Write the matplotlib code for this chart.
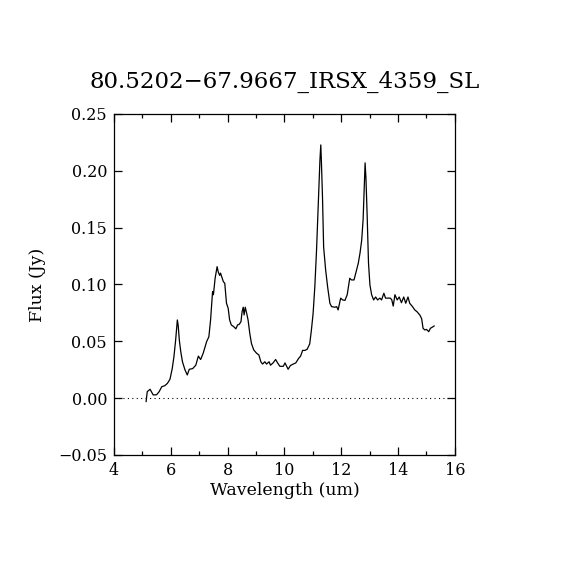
import numpy as np
import matplotlib
matplotlib.use('Agg')
import matplotlib.pyplot as plt
from matplotlib.ticker import MultipleLocator, FuncFormatter

# ── IRS SL spectrum ───────────────────────────────────────────────────
WAVE = [5.13, 5.17, 5.27, 5.38, 5.50, 5.59, 5.68, 5.79, 5.88, 5.97,
        6.05, 6.11, 6.17, 6.23, 6.26, 6.30, 6.35, 6.41, 6.50, 6.58,
        6.65, 6.77, 6.88, 6.97, 7.05, 7.14, 7.26, 7.34, 7.40, 7.47,
        7.50, 7.56, 7.63, 7.67, 7.72, 7.75, 7.85, 7.90, 7.96, 8.02,
        8.07, 8.13, 8.21, 8.29, 8.35, 8.41, 8.47, 8.51, 8.55, 8.58,
        8.62, 8.67, 8.72, 8.78, 8.84, 8.92, 9.02, 9.10, 9.17, 9.23,
        9.31, 9.37, 9.46, 9.51, 9.60, 9.69, 9.76, 9.84, 9.96, 10.02,
        10.13, 10.21, 10.31, 10.40, 10.50, 10.57, 10.64, 10.72, 10.80, 10.89,
        10.95, 11.01, 11.07, 11.13, 11.19, 11.25, 11.28, 11.30, 11.34, 11.38,
        11.45, 11.52, 11.60, 11.66, 11.78, 11.84, 11.89, 11.98, 12.05, 12.13,
        12.21, 12.30, 12.36, 12.45, 12.51, 12.60, 12.66, 12.72, 12.77, 12.82,
        12.84, 12.87, 12.91, 12.96, 13.01, 13.07, 13.14, 13.21, 13.28, 13.36,
        13.42, 13.50, 13.56, 13.65, 13.73, 13.78, 13.83, 13.89, 13.97, 14.04,
        14.12, 14.20, 14.27, 14.35, 14.41, 14.51, 14.59, 14.67, 14.77, 14.83,
        14.88, 14.94, 15.00, 15.08, 15.14, 15.21, 15.27]
FLUX = [-0.003, 0.0057, 0.0078, 0.0028, 0.003, 0.0057, 0.010, 0.011, 0.013, 0.0166,
        0.026, 0.0365, 0.051, 0.0688, 0.064, 0.051, 0.041, 0.032, 0.0248, 0.0204,
        0.0254, 0.026, 0.029, 0.037, 0.034, 0.0395, 0.0497, 0.054, 0.0688, 0.0937,
        0.091, 0.1055, 0.1157, 0.111, 0.108, 0.110, 0.1025, 0.101, 0.0835, 0.079,
        0.0688, 0.0644, 0.063, 0.061, 0.0644, 0.065, 0.0673, 0.0761, 0.080, 0.0732,
        0.080, 0.0747, 0.0688, 0.057, 0.048, 0.0424, 0.0395, 0.038, 0.032, 0.030,
        0.032, 0.030, 0.032, 0.029, 0.031, 0.034, 0.031, 0.028, 0.028, 0.031,
        0.0254, 0.0287, 0.030, 0.031, 0.035, 0.037, 0.042, 0.042, 0.043, 0.0477,
        0.060, 0.0747, 0.098, 0.130, 0.1685, 0.2095, 0.2228, 0.2095, 0.177, 0.133,
        0.113, 0.098, 0.0835, 0.0805, 0.080, 0.0805, 0.0776, 0.088, 0.0864, 0.086,
        0.091, 0.1055, 0.104, 0.104, 0.110, 0.1187, 0.1275, 0.139, 0.157, 0.1935,
        0.207, 0.1935, 0.1627, 0.1187, 0.0996, 0.091, 0.0864, 0.089, 0.0864, 0.088,
        0.0864, 0.0923, 0.088, 0.088, 0.088, 0.0864, 0.081, 0.091, 0.0864, 0.089,
        0.084, 0.089, 0.0835, 0.089, 0.0835, 0.0805, 0.0776, 0.076, 0.073, 0.070,
        0.0615, 0.060, 0.0605, 0.0585, 0.0615, 0.0625, 0.0635]

TITLE = '80.5202\u221267.9667_IRSX_4359_SL'

plt.rcParams['font.family'] = ['DejaVu Serif']

fig = plt.figure(figsize=(5.7, 5.7), dpi=100)
ax = fig.add_axes([0.2, 0.2018, 0.598, 0.5982])

ax.axhline(0.0, color='black', linestyle=(0, (1, 3)), linewidth=0.8)
ax.plot(WAVE, FLUX, '-', color='black', linewidth=0.9)

ax.set_xlim(4, 16)
ax.set_ylim(-0.05, 0.25)
ax.xaxis.set_major_locator(MultipleLocator(2))
ax.xaxis.set_minor_locator(MultipleLocator(1))
ax.yaxis.set_major_locator(MultipleLocator(0.05))
ax.yaxis.set_major_formatter(FuncFormatter(
    lambda v, pos: f'{v:.2f}'.replace('-', '\u2212')))
ax.tick_params(which='both', direction='in', top=True, right=True,
               labelsize=11.5, pad=5)
ax.tick_params(which='major', length=6, width=0.9)
ax.tick_params(which='minor', length=3, width=0.9)
for sp in ax.spines.values():
    sp.set_linewidth(0.9)

ax.set_xlabel('Wavelength (um)', fontsize=12.5, labelpad=2)
ax.set_ylabel('Flux (Jy)', fontsize=12.5, labelpad=9)
ax.set_title(TITLE, fontsize=16.5, pad=19)

fig.savefig('out.png', dpi=100, facecolor='white')
